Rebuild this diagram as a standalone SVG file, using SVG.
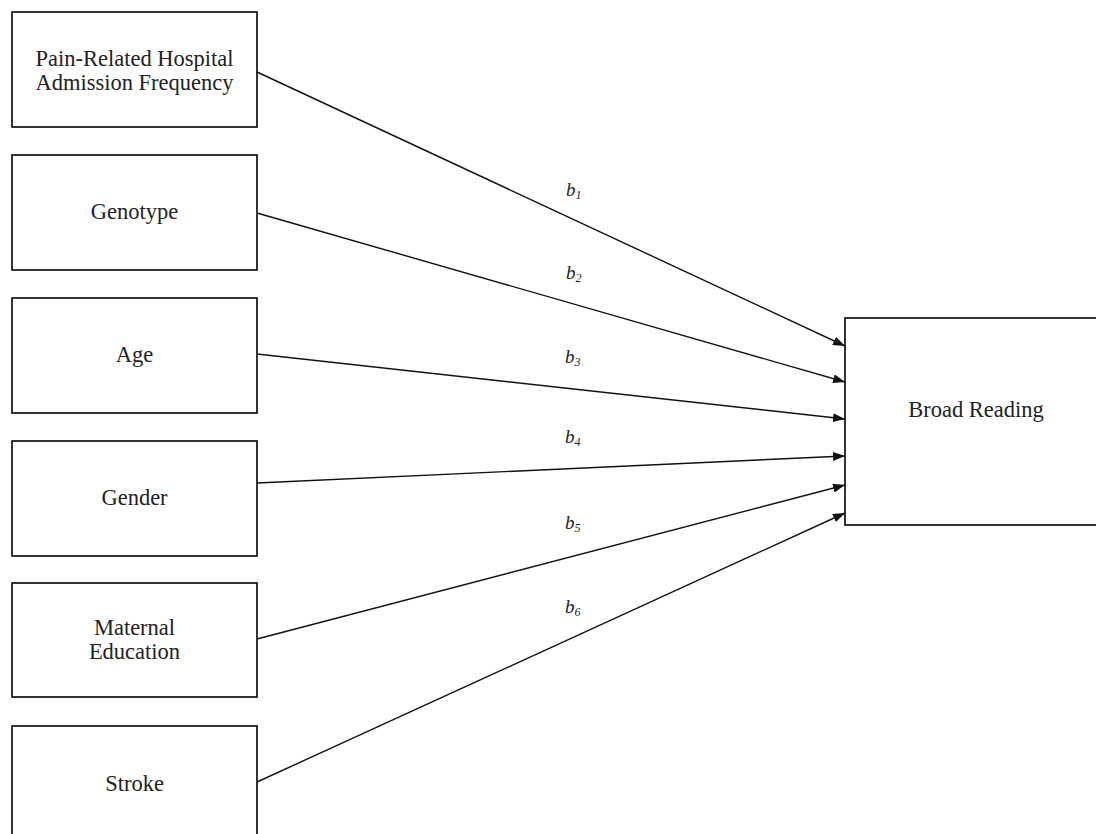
<svg xmlns="http://www.w3.org/2000/svg" width="1096" height="834" viewBox="0 0 1096 834">
<style>
.box{fill:#fff;stroke:#000;stroke-width:1.6}
.t{font-family:"Liberation Serif","Times New Roman",serif;font-size:22.5px;fill:#222;text-anchor:middle}
.lbl{font-family:"Liberation Serif","Times New Roman",serif;font-style:italic;font-size:19px;fill:#222}
.sub{font-size:12px}
.ln{stroke:#111;stroke-width:1.4;fill:none;marker-end:url(#ah)}
</style>
<defs>
<marker id="ah" markerWidth="13" markerHeight="10" refX="12" refY="4.5" orient="auto" markerUnits="userSpaceOnUse">
<path d="M0,0 L12,4.5 L0,9 Z" fill="#111"/>
</marker>
</defs>
<rect width="1096" height="834" fill="#fff"/>
<g id="n1"><rect class="box" x="12" y="12" width="245" height="115"/><text class="t" x="134.5" y="66">Pain-Related Hospital</text><text class="t" x="134.5" y="90">Admission Frequency</text></g>
<g id="n2"><rect class="box" x="12" y="155" width="245" height="115"/><text class="t" x="134.5" y="219">Genotype</text></g>
<g id="n3"><rect class="box" x="12" y="298" width="245" height="115"/><text class="t" x="134.5" y="362">Age</text></g>
<g id="n4"><rect class="box" x="12" y="441" width="245" height="115"/><text class="t" x="134.5" y="505">Gender</text></g>
<g id="n5"><rect class="box" x="12" y="583" width="245" height="114"/><text class="t" x="134.5" y="635">Maternal</text><text class="t" x="134.5" y="659">Education</text></g>
<g id="n6"><rect class="box" x="12" y="726" width="245" height="120"/><text class="t" x="134.5" y="791">Stroke</text></g>
<g id="n7"><rect class="box" x="845" y="318" width="270" height="207"/><text class="t" x="976" y="417">Broad Reading</text></g>
<g id="connectors">
<line class="ln" x1="257" y1="72" x2="845" y2="346"/>
<line class="ln" x1="257" y1="213" x2="845" y2="382"/>
<line class="ln" x1="257" y1="354" x2="845" y2="419"/>
<line class="ln" x1="257" y1="483" x2="845" y2="456"/>
<line class="ln" x1="257" y1="639" x2="845" y2="485"/>
<line class="ln" x1="257" y1="782" x2="845" y2="513"/>
<text class="lbl" x="566" y="196">b<tspan class="sub" dy="3">1</tspan></text>
<text class="lbl" x="566" y="279">b<tspan class="sub" dy="3">2</tspan></text>
<text class="lbl" x="565" y="363">b<tspan class="sub" dy="3">3</tspan></text>
<text class="lbl" x="565" y="443">b<tspan class="sub" dy="3">4</tspan></text>
<text class="lbl" x="565" y="529">b<tspan class="sub" dy="3">5</tspan></text>
<text class="lbl" x="565" y="613">b<tspan class="sub" dy="3">6</tspan></text>
</g>
</svg>
